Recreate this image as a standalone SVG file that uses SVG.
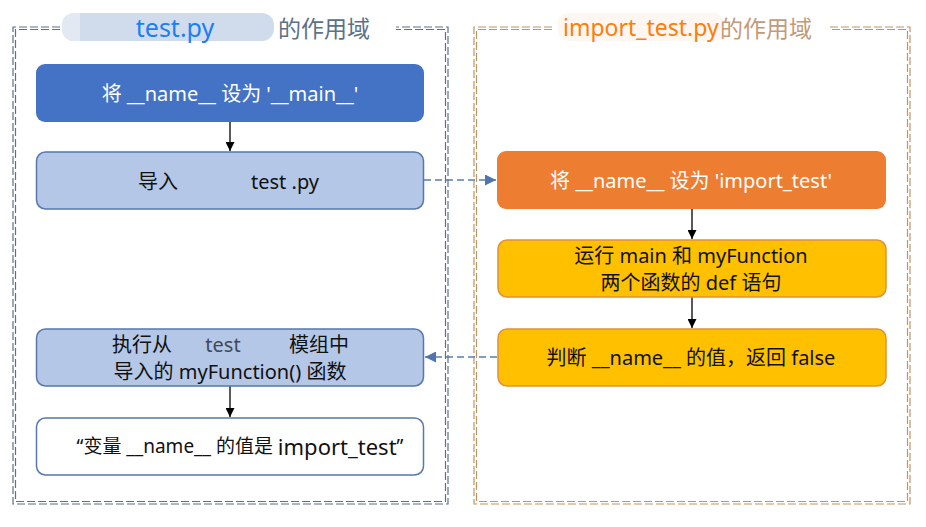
<svg xmlns="http://www.w3.org/2000/svg" width="926" height="527" viewBox="0 0 926 527">
<defs>
<style>
.t{font-family:"Noto Sans","Open Sans","Noto Sans CJK SC",sans-serif;font-size:20px;text-anchor:middle;dominant-baseline:central}
.w{fill:#ffffff}
.k{fill:#111111}
.fl{fill:none;stroke-width:1.2;stroke-dasharray:8 3}
.fb{stroke:#5b7187}
.fo{stroke:#c29462}
.dash{fill:none;stroke:#5a7ea8;stroke-width:1.3;stroke-dasharray:7 4}
.solid{fill:none;stroke:#000;stroke-width:1.3}
</style>
<marker id="ak" viewBox="0 0 10 10" refX="10" refY="5" markerWidth="9" markerHeight="9" markerUnits="userSpaceOnUse" orient="auto"><path d="M0,0 L10,5 L0,10 z" fill="#000"/></marker>
<marker id="ab" viewBox="0 0 10 10" refX="10" refY="5" markerWidth="11" markerHeight="11" markerUnits="userSpaceOnUse" orient="auto"><path d="M0,0 L10,5 L0,10 z" fill="#4f74b0"/></marker>
</defs>
<rect width="926" height="527" fill="#ffffff"/>
<g id="frame-test">
<path class="fl fb" d="M60,27 H13 V504 H448 V27 H396"/>
<path class="fl fb" d="M60,29.5 H15.5 V501.5 H445.5 V29.5 H396"/>
<rect x="62" y="13" width="212" height="28" rx="12" fill="#d0dbeb"/>
<path d="M74,13 H80 V41 H74 A12,12 0 0 1 62,29 V25 A12,12 0 0 1 74,13 z" fill="#e3e9f3"/>
<text x="175" y="27" font-family="Noto Sans,Open Sans,sans-serif" font-size="25" fill="#1a7ff5" text-anchor="middle" dominant-baseline="central">test.py</text>
<text x="278" y="27" font-family="Noto Sans CJK SC,sans-serif" font-size="23" fill="#5b7187" dominant-baseline="central">的作用域</text>
</g>
<g id="frame-import">
<path class="fl fo" d="M552,27 H474 V504 H910 V27 H830"/>
<path class="fl fo" d="M552,29.5 H476.5 V501.5 H907.5 V29.5 H830"/>
<rect x="558" y="13" width="166" height="28" rx="10" fill="#fdf6f1"/>
<text x="563" y="27" font-family="Noto Sans,Open Sans,sans-serif" font-size="23" fill="#ff7c0a" dominant-baseline="central">import_test.py</text>
<text x="720" y="27" font-family="Noto Sans CJK SC,sans-serif" font-size="23" fill="#c39a78" dominant-baseline="central">的作用域</text>
</g>
<g id="connectors">
<path class="solid" d="M230,122 V151" marker-end="url(#ak)"/>
<path class="dash" d="M424,180 H496" marker-end="url(#ab)"/>
<path class="solid" d="M692,209 V239" marker-end="url(#ak)"/>
<path class="solid" d="M692,297 V328" marker-end="url(#ak)"/>
<path class="dash" d="M497,357 H425" marker-end="url(#ab)"/>
<path class="solid" d="M230,386 V417" marker-end="url(#ak)"/>
</g>
<g id="n1">
<rect x="36" y="64" width="388" height="58" rx="9" fill="#4472c4"/>
<text class="t w" x="230" y="93" font-size="21">将 __name__ 设为 '__main__'</text>
</g>
<g id="n2">
<rect x="36.5" y="152" width="387" height="57" rx="9" fill="#b4c7e7" stroke="#5677b0" stroke-width="1.5"/>
<text class="t k" x="158" y="181">导入</text>
<text class="t k" x="285" y="181">test .py</text>
</g>
<g id="n3">
<rect x="497" y="151" width="389" height="58" rx="9" fill="#ed7d31"/>
<text class="t w" x="691" y="180">将 __name__ 设为 'import_test'</text>
</g>
<g id="n4">
<rect x="498" y="240" width="388" height="57" rx="9" fill="#ffc000" stroke="#e0913a" stroke-width="1.5"/>
<text class="t k" x="691" y="255" font-size="19.5">运行 main 和 myFunction</text>
<text class="t k" x="691" y="282" font-size="19.5">两个函数的 def 语句</text>
</g>
<g id="n5">
<rect x="498" y="329" width="388" height="57" rx="9" fill="#ffc000" stroke="#e0913a" stroke-width="1.5"/>
<text class="t k" x="691" y="357">判断 __name__ 的值，返回 false</text>
</g>
<g id="n6">
<rect x="36.5" y="329" width="387" height="57" rx="9" fill="#b4c7e7" stroke="#5677b0" stroke-width="1.5"/>
<text class="t k" x="142" y="344" font-size="19.5">执行从</text>
<text class="t" x="223" y="344" fill="#3f4a5a" font-size="18">test</text>
<text class="t k" x="319" y="344" font-size="19.5">模组中</text>
<text class="t k" x="230" y="371" font-size="19.5">导入的 myFunction() 函数</text>
</g>
<g id="n7">
<rect x="36.5" y="418" width="387" height="57" rx="9" fill="#ffffff" stroke="#5677b0" stroke-width="1.5"/>
<text class="t k" x="240" y="446"><tspan font-size="19">“变量 __name__ 的值是 </tspan><tspan font-size="22">import_test</tspan><tspan font-size="19">”</tspan></text>
</g>
</svg>
